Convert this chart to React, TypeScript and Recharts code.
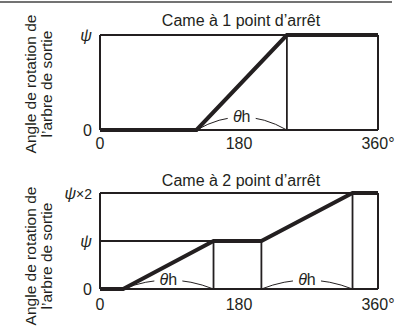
import React from "react";
import { LineChart, Line, XAxis, YAxis, ReferenceLine } from "recharts";

const ink = "#231f20";
const font = '"Liberation Sans", Arial, Helvetica, sans-serif';

// shared x axis (cam angle, degrees)
const degTicks = [0, 180, 360];
const degLabels = ["0", "180", "360°"];

// cam with 1 dwell
const oneStopProfile = [
  { deg: 0, rot: 0 },
  { deg: 125, rot: 0 },
  { deg: 242, rot: 1 },
  { deg: 360, rot: 1 },
];
const oneStopTicks = [0, 1];
const oneStopTickLabels = ["0", "ψ"];
const oneStopVerticals = [{ deg: 242, top: 1 }];
const oneStopGuides: { rot: number; to: number }[] = [];
const oneStopSpans = [[125, 242]];

// cam with 2 dwells
const twoStopProfile = [
  { deg: 0, rot: 0 },
  { deg: 30, rot: 0 },
  { deg: 147, rot: 1 },
  { deg: 209, rot: 1 },
  { deg: 327, rot: 2 },
  { deg: 360, rot: 2 },
];
const twoStopTicks = [0, 1, 2];
const twoStopTickLabels = ["0", "ψ", "ψ×2"];
const twoStopVerticals = [
  { deg: 147, top: 1 },
  { deg: 209, top: 1 },
  { deg: 327, top: 2 },
];
const twoStopGuides = [{ rot: 1, to: 147 }];
const twoStopSpans = [
  [30, 147],
  [209, 327],
];

function PsiTick(props: any) {
  const { x, y, payload, labels, ticks } = props;
  const label: string = labels[ticks.indexOf(payload.value)] ?? "";
  const isPsi = label.startsWith("ψ");
  return (
    <text x={x} y={y} dy="0.35em" textAnchor="end" fontSize={16} fill={ink} fontFamily={font}>
      {isPsi ? (
        <>
          <tspan fontStyle="italic">ψ</tspan>
          <tspan fontSize={14}>{label.slice(1)}</tspan>
        </>
      ) : (
        label
      )}
    </text>
  );
}

const thetaArc = (h: number) => (p: any) => {
  const mx = (p.x1 + p.x2) / 2;
  const ty = p.y1 - h - 1;
  return (
    <g>
      <path
        d={`M${p.x1},${p.y1} Q${mx},${p.y1 - 2 * h} ${p.x2},${p.y2}`}
        fill="none"
        stroke={ink}
        strokeWidth={1}
      />
      <rect x={mx - 14} y={ty - 8} width={28} height={16} fill="#fff" />
      <text x={mx} y={ty} dy="0.35em" textAnchor="middle" fontSize={16} fill={ink} fontFamily={font}>
        <tspan fontStyle="italic">θ</tspan>
        <tspan>h</tspan>
      </text>
    </g>
  );
};

type CamProps = {
  profile: { deg: number; rot: number }[];
  ticks: number[];
  tickLabels: string[];
  verticals: { deg: number; top: number }[];
  guides: { rot: number; to: number }[];
  spans: number[][];
  height: number;
  margin: { top: number; right: number; bottom: number; left: number };
  arcH: number;
  tickMargin: number;
};

function CamChart({ profile, ticks, tickLabels, verticals, guides, spans, height, margin, arcH, tickMargin }: CamProps) {
  const max = ticks[ticks.length - 1];
  return (
    <LineChart width={396} height={height} data={profile} margin={margin}>
      <XAxis
        dataKey="deg"
        type="number"
        domain={[0, 360]}
        ticks={degTicks}
        interval={0}
        tickFormatter={(v) => degLabels[degTicks.indexOf(v)]}
        axisLine={false}
        tickLine={false}
        tickMargin={tickMargin}
        tick={{ fontSize: 16, fill: ink, fontFamily: font }}
      />
      <YAxis
        type="number"
        domain={[0, max]}
        ticks={ticks}
        width={60}
        axisLine={false}
        tickLine={false}
        tick={<PsiTick labels={tickLabels} ticks={ticks} />}
      />
      {guides.map((g, i) => (
        <ReferenceLine
          key={"g" + i}
          segment={[
            { x: 0, y: g.rot },
            { x: g.to, y: g.rot },
          ]}
          stroke={ink}
          strokeWidth={1.8}
        />
      ))}
      {verticals.map((v, i) => (
        <ReferenceLine
          key={"v" + i}
          segment={[
            { x: v.deg, y: 0 },
            { x: v.deg, y: v.top },
          ]}
          stroke={ink}
          strokeWidth={1.8}
        />
      ))}
      <ReferenceLine x={0} stroke={ink} strokeWidth={2} />
      <ReferenceLine x={360} stroke={ink} strokeWidth={2} />
      <ReferenceLine y={0} stroke={ink} strokeWidth={2} />
      <ReferenceLine y={max} stroke={ink} strokeWidth={2} />
      {spans.map((s, i) => (
        <ReferenceLine
          key={"s" + i}
          segment={[
            { x: s[0], y: 0 },
            { x: s[1], y: 0 },
          ]}
          shape={thetaArc(arcH)}
        />
      ))}
      <Line
        type="linear"
        dataKey="rot"
        stroke={ink}
        strokeWidth={4}
        strokeLinejoin="miter"
        dot={false}
        isAnimationActive={false}
      />
    </LineChart>
  );
}

function SideLabel({ x, y }: { x: number; y: number }) {
  return (
    <g transform={`translate(${x},${y}) rotate(-90)`}>
      <text x={0} y={-8} dy="0.35em" textAnchor="middle" fontSize={15.5} fill={ink}>
        Angle de rotation de
      </text>
      <text x={0} y={8} dy="0.35em" textAnchor="middle" fontSize={15.5} fill={ink}>
        l’arbre de sortie
      </text>
    </g>
  );
}

export default function App() {
  return (
    <div
      style={{
        position: "absolute",
        left: 0,
        top: 0,
        width: 396,
        height: 327,
        background: "#fff",
        fontFamily: font,
        overflow: "hidden",
      }}
    >
      <svg width={396} height={327} style={{ position: "absolute", left: 0, top: 0 }} fontFamily={font}>
        <line x1={0} y1={2} x2={392} y2={2} stroke="#444" strokeWidth={1.5} />
        <text x={241} y={26} textAnchor="middle" fontSize={16} fill={ink}>
          Came à 1 point d’arrêt
        </text>
        <text x={241} y={186} textAnchor="middle" fontSize={16} fill={ink}>
          Came à 2 point d’arrêt
        </text>
        <SideLabel x={39} y={84} />
        <SideLabel x={39} y={256} />
      </svg>
      <div style={{ position: "absolute", left: 0, top: 0 }}>
        <CamChart
          profile={oneStopProfile}
          ticks={oneStopTicks}
          tickLabels={oneStopTickLabels}
          verticals={oneStopVerticals}
          guides={oneStopGuides}
          spans={oneStopSpans}
          height={160}
          margin={{ top: 35, right: 18, bottom: 0, left: 40 }}
          arcH={13}
          tickMargin={2}
        />
      </div>
      <div style={{ position: "absolute", left: 0, top: 160 }}>
        <CamChart
          profile={twoStopProfile}
          ticks={twoStopTicks}
          tickLabels={twoStopTickLabels}
          verticals={twoStopVerticals}
          guides={twoStopGuides}
          spans={twoStopSpans}
          height={167}
          margin={{ top: 33, right: 18, bottom: 8, left: 40 }}
          arcH={9}
          tickMargin={4}
        />
      </div>
    </div>
  );
}
